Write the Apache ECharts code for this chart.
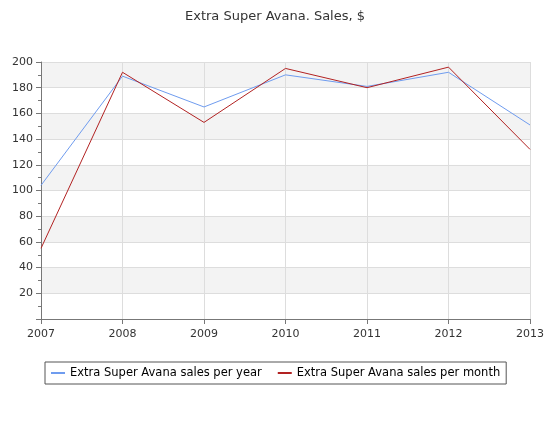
<!DOCTYPE html><html><head><meta charset="utf-8"><script src="https://cdn.jsdelivr.net/npm/echarts@6/dist/echarts.min.js"></script></head><body style="margin:0"><div id="c" style="width:550px;height:425px"></div><script>
var categories=['2007','2008','2009','2010','2011','2012','2013'];
var perYear=[104,189,165,190,181,192,151];
var perMonth=[55,192,153,195,180,196,132];
var chart=echarts.init(document.getElementById('c'));
chart.setOption({
 animation:false,
 title:{text:'Extra Super Avana. Sales, $',left:'center',top:5,textStyle:{fontFamily:'DejaVu Sans',fontSize:13,fontWeight:'normal',color:'#333'}},
 grid:{left:41,right:20,top:62,bottom:106},
 legend:{bottom:41,left:45,itemGap:16,borderColor:'#555',borderWidth:1,borderRadius:0,padding:[5,6],itemWidth:14,itemHeight:2,icon:'rect',textStyle:{fontFamily:'DejaVu Sans',fontSize:11.5,color:'#000'}},
 xAxis:{type:'category',data:categories,boundaryGap:false,axisLine:{lineStyle:{color:'#777'}},axisTick:{show:true,length:5,lineStyle:{color:'#777'}},axisLabel:{fontFamily:'DejaVu Sans',fontSize:11,color:'#333',margin:10},splitLine:{show:true,lineStyle:{color:'#ddd'}}},
 yAxis:{type:'value',min:0,max:200,interval:20,axisLine:{show:true,lineStyle:{color:'#777'}},axisTick:{show:true,length:5,lineStyle:{color:'#777'}},minorTick:{show:true,splitNumber:2,length:3,lineStyle:{color:'#777'}},axisLabel:{fontFamily:'DejaVu Sans',fontSize:11,color:'#333',formatter:function(v){return v===0?'':v;}},splitLine:{lineStyle:{color:'#ddd'}},splitArea:{show:true,areaStyle:{color:['#fff','#f3f3f3']}}},
 series:[
  {name:'Extra Super Avana sales per year',type:'line',data:perYear,symbol:'none',lineStyle:{color:'#6f9cef',width:1},itemStyle:{color:'#6f9cef'}},
  {name:'Extra Super Avana sales per month',type:'line',data:perMonth,symbol:'none',lineStyle:{color:'#b22222',width:1},itemStyle:{color:'#b22222'}}
 ]
});
</script></body></html>
